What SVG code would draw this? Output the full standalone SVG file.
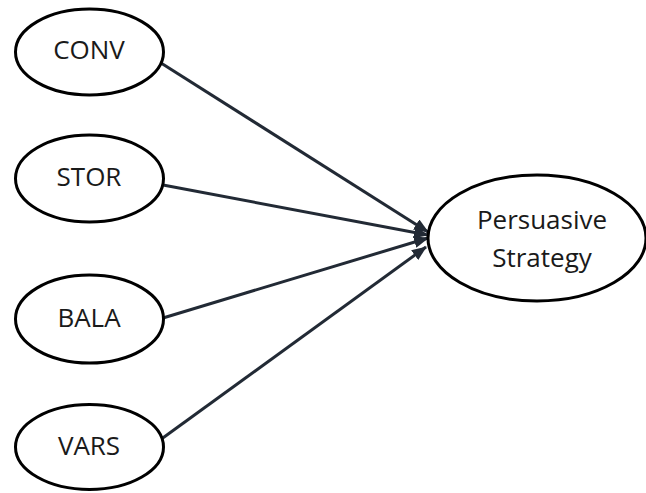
<svg xmlns="http://www.w3.org/2000/svg" width="646" height="493" viewBox="0 0 646 493">
  <style>
    .node ellipse { fill: #ffffff; stroke: #000000; stroke-width: 3; }
    .node text { font-family: "Open Sans", "Noto Sans", sans-serif; font-size: 26px; fill: #1a1a1a; text-anchor: middle; }
    .edge { stroke: #222a35; stroke-width: 3; fill: none; marker-end: url(#arrow); }
  </style>
  <defs>
    <marker id="arrow" markerUnits="userSpaceOnUse" markerWidth="15" markerHeight="12" refX="14" refY="6" orient="auto">
      <path d="M0,0 L15,6 L0,12 Z" fill="#222a35"/>
    </marker>
  </defs>
  <rect width="646" height="493" fill="#ffffff"/>
  <g id="connectors">
    <line class="edge" x1="161" y1="63" x2="428" y2="232"/>
    <line class="edge" x1="163" y1="185" x2="428" y2="235"/>
    <line class="edge" x1="163" y1="318" x2="428" y2="238"/>
    <line class="edge" x1="160" y1="440" x2="426" y2="247"/>
  </g>
  <g id="node-conv" class="node">
    <ellipse cx="89.5" cy="52" rx="74" ry="43"/>
    <text x="89" y="59">CONV</text>
  </g>
  <g id="node-stor" class="node">
    <ellipse cx="89.5" cy="178.5" rx="74" ry="43.5"/>
    <text x="89" y="186">STOR</text>
  </g>
  <g id="node-bala" class="node">
    <ellipse cx="89.5" cy="319" rx="74" ry="44"/>
    <text x="89" y="327">BALA</text>
  </g>
  <g id="node-vars" class="node">
    <ellipse cx="89.5" cy="447" rx="74" ry="42.5"/>
    <text x="89" y="455">VARS</text>
  </g>
  <g id="node-persuasive" class="node">
    <ellipse cx="537" cy="238" rx="109" ry="63"/>
    <text x="542" y="229">Persuasive</text>
    <text x="542" y="267">Strategy</text>
  </g>
</svg>
